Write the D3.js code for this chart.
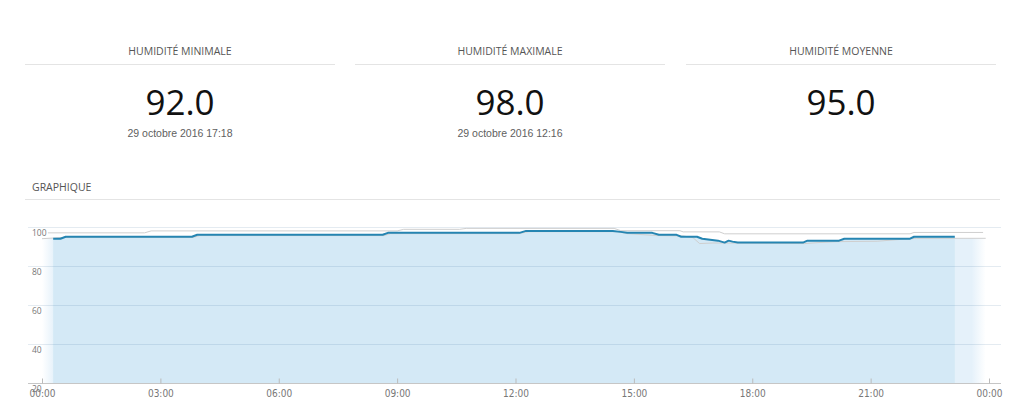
<!DOCTYPE html>
<html lang="fr">
<head>
<meta charset="utf-8">
<title>Humidité</title>
<script src="https://cdn.jsdelivr.net/npm/d3@7"></script>
<style>
  html, body { margin: 0; padding: 0; background: #fff; }
  svg { display: block; }
</style>
</head>
<body>
<svg id="chart" width="1024" height="404"></svg>
<script>
// Summary panels
const statTitles = ["HUMIDITÉ MINIMALE", "HUMIDITÉ MAXIMALE", "HUMIDITÉ MOYENNE"];
const statValues = [92.0, 98.0, 95.0];
const statDates  = ["29 octobre 2016 17:18", "29 octobre 2016 12:16", ""];

// Humidity over the day (%)
const humidityTimes  = ["00:17","00:28","00:36","03:48","03:56","08:38","08:46","12:06","12:16","14:28","14:40","14:50","15:28","15:38","16:05","16:12","16:36","16:44","16:56","17:08","17:18","17:24","17:30","17:38","19:17","19:24","20:12","20:20","22:00","22:06","23:08"];
const humidityValues = [94, 94, 95, 95, 96, 96, 97, 97, 98, 98, 97.5, 97, 97, 96, 96, 95, 95, 94, 93.5, 93, 92, 93, 92.5, 92, 92, 93, 93, 94, 94, 95, 95];

// Reference envelope (upper and lower lines)
const upperTimes  = ["00:09","02:36","02:46","09:00","09:10","10:35","10:45","14:30","14:40","16:10","16:15","17:10","17:18","22:00","22:06","23:51"];
const upperValues = [97, 97, 98, 98, 98.8, 98.8, 99.3, 99.3, 98.1, 98.1, 97.5, 97.5, 96.5, 96.5, 97.2, 97.2];
const lowerTimes  = ["00:00","00:35","03:50","04:00","08:40","08:50","12:05","12:20","14:35","14:50","15:35","16:15","16:30","16:40","17:00","19:20","19:40","20:10","21:10","21:40","22:10","23:55"];
const lowerValues = [94, 94.7, 94.7, 95.6, 95.6, 96.6, 96.6, 97.6, 97.6, 96.6, 95.6, 95.4, 94.5, 91.5, 91.8, 91.5, 92, 92.5, 92.7, 93.5, 94.2, 94.2];

// Axes
const yTicks = [20, 40, 60, 80, 100];
const xTickHours = [0, 3, 6, 9, 12, 15, 18, 21, 24];
const xTickLabels = ["00:00","03:00","06:00","09:00","12:00","15:00","18:00","21:00","00:00"];

const toHours = s => { const [h, m] = s.split(":").map(Number); return h + m / 60; };
const zip = (ts, vs) => ts.map((t, i) => ({ t: toHours(t), v: vs[i] }));

const humidity = zip(humidityTimes, humidityValues);
const upper = zip(upperTimes, upperValues);
const lower = zip(lowerTimes, lowerValues);

const svg = d3.select("#chart");

// ---- summary header ----
const colCenters = [180, 510, 841];
const colWidth = 310;
const header = svg.append("g");
statTitles.forEach((title, i) => {
  const cx = colCenters[i];
  header.append("text")
    .attr("x", cx).attr("y", 55)
    .attr("text-anchor", "middle")
    .attr("font-family", "'Open Sans', sans-serif")
    .attr("font-size", 10.5)
    .attr("fill", "#555")
    .text(title);
  header.append("line")
    .attr("x1", cx - colWidth / 2).attr("x2", cx + colWidth / 2)
    .attr("y1", 64.5).attr("y2", 64.5)
    .attr("stroke", "#e4e4e4");
  header.append("text")
    .attr("x", cx).attr("y", 115)
    .attr("text-anchor", "middle")
    .attr("font-family", "'Open Sans', sans-serif")
    .attr("font-size", 35)
    .attr("fill", "#111")
    .text(statValues[i].toFixed(1));
  if (statDates[i]) {
    header.append("text")
      .attr("x", cx).attr("y", 137)
      .attr("text-anchor", "middle")
      .attr("font-family", "'Liberation Sans', Arial, sans-serif")
      .attr("font-size", 10.5)
      .attr("fill", "#606060")
      .text(statDates[i]);
  }
});

svg.append("text")
  .attr("x", 32).attr("y", 191)
  .attr("font-family", "'Open Sans', sans-serif")
  .attr("font-size", 10.5)
  .attr("fill", "#555")
  .text("GRAPHIQUE");
svg.append("line")
  .attr("x1", 25).attr("x2", 1000)
  .attr("y1", 199.5).attr("y2", 199.5)
  .attr("stroke", "#e4e4e4");

// ---- chart ----
const plotLeft = 28, plotRight = 1001;
const x = d3.scaleLinear().domain([0, 24]).range([42, 989]);
const y = d3.scaleLinear().domain([20, 100]).range([383, 227]);

const defs = svg.append("defs");
const fade = defs.append("linearGradient")
  .attr("id", "envelopeFill")
  .attr("x1", "0").attr("x2", "1").attr("y1", "0").attr("y2", "0");
[[0, 0], [0.013, 1], [0.985, 1], [1, 0]].forEach(([o, a]) =>
  fade.append("stop").attr("offset", o).attr("stop-color", "#e5f1fa").attr("stop-opacity", a));

const area = d3.area().x(d => x(d.t)).y0(y(20)).y1(d => y(d.v));
const line = d3.line().x(d => x(d.t)).y(d => y(d.v));

// lower reference envelope, filled
svg.append("path").datum(lower)
  .attr("d", area)
  .attr("fill", "url(#envelopeFill)");

// humidity area
svg.append("path").datum(humidity)
  .attr("d", area)
  .attr("fill", "#d4e9f6");

// grid lines
svg.append("g").selectAll("line")
  .data(yTicks.filter(v => v !== 20))
  .join("line")
  .attr("x1", plotLeft).attr("x2", plotRight)
  .attr("y1", d => Math.round(y(d)) + 0.5).attr("y2", d => Math.round(y(d)) + 0.5)
  .attr("stroke", "rgba(30,90,140,0.12)");

// y labels (placed just below each grid line)
svg.append("g").selectAll("text")
  .data(yTicks)
  .join("text")
  .attr("x", 32)
  .attr("y", d => y(d) + 9)
  .attr("font-family", "'Open Sans', sans-serif")
  .attr("font-size", 8.5)
  .attr("fill", "#777")
  .text(d => d);

// reference lines
svg.append("path").datum(upper)
  .attr("d", line).attr("fill", "none")
  .attr("stroke", "#cfcfcf").attr("stroke-width", 1);
svg.append("path").datum(lower)
  .attr("d", line).attr("fill", "none")
  .attr("stroke", "#cfcfcf").attr("stroke-width", 1);

// humidity line
svg.append("path").datum(humidity)
  .attr("d", line).attr("fill", "none")
  .attr("stroke", "#2585b2").attr("stroke-width", 2)
  .attr("stroke-linejoin", "round");

// x axis
svg.append("line")
  .attr("x1", plotLeft).attr("x2", plotRight)
  .attr("y1", 383.5).attr("y2", 383.5)
  .attr("stroke", "#c6c6c6");
const xAxis = d3.axisBottom(x)
  .tickValues(xTickHours)
  .tickFormat((d, i) => xTickLabels[i])
  .tickSize(-5)
  .tickPadding(6);
const gx = svg.append("g").attr("transform", "translate(0,383.5)").call(xAxis);
gx.select(".domain").remove();
gx.selectAll(".tick line").attr("stroke", "#bbb");
gx.selectAll(".tick text")
  .attr("font-family", "'Liberation Sans Narrow', 'DejaVu Sans Condensed', sans-serif")
  .attr("font-size", 10)
  .attr("fill", "#777");
</script>
</body>
</html>
